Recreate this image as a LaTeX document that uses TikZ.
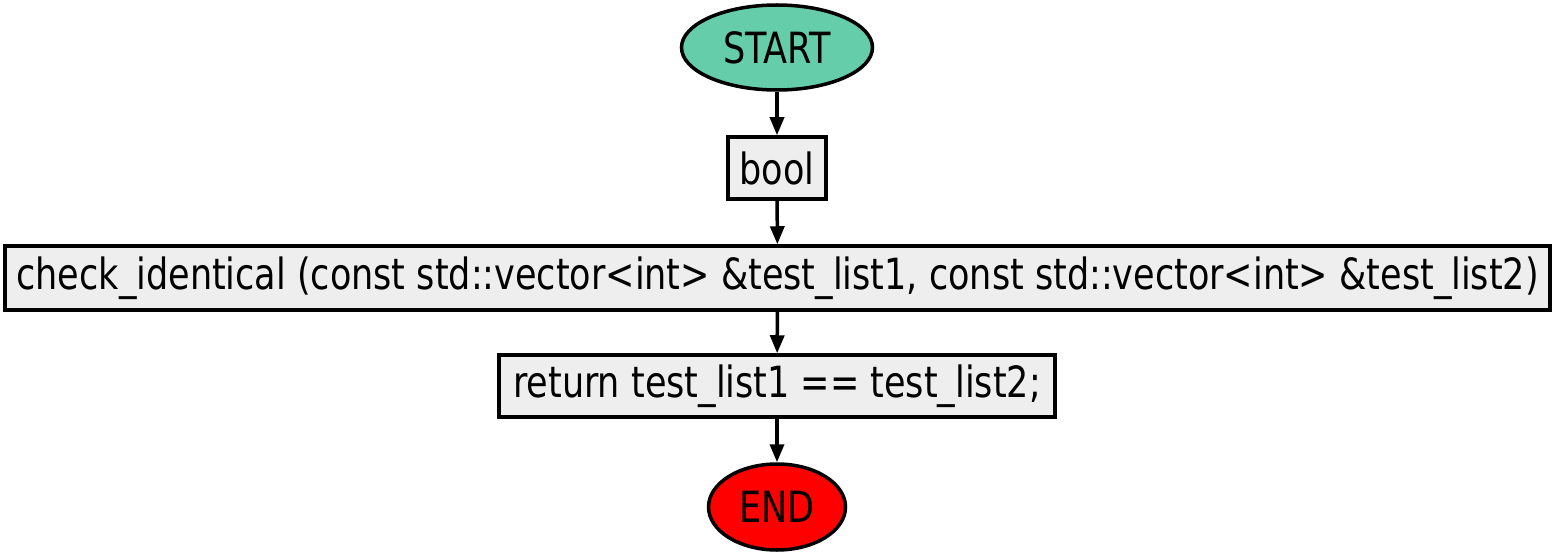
\documentclass[tikz,border=0pt]{standalone}
\usepackage{fontspec}
\setmainfont[FakeStretch=0.905]{DejaVu Sans Condensed}
\usetikzlibrary{shapes.geometric,arrows.meta}

\definecolor{startgreen}{HTML}{66CDAA}
\definecolor{boxgray}{HTML}{EEEEEE}

\tikzset{
  every node/.style={font=\fontsize{43}{48}\selectfont, inner sep=0pt},
  terminal/.style={ellipse, draw, line width=3.5pt},
  stmt/.style={rectangle, draw, line width=3.5pt, fill=boxgray},
  flow/.style={line width=3.5pt, -{Triangle[width=14pt,length=18pt]}}
}

\begin{document}
\begin{tikzpicture}[x=1pt,y=-1pt]
\useasboundingbox (0,0) rectangle (1555,556);
\node[terminal, fill=startgreen, minimum width=191pt, minimum height=85pt] (start) at (777,47.5) {START};
\node[stmt, minimum width=98pt, minimum height=62pt] (ret) at (777,168) {bool};
\node[stmt, minimum width=1545pt, minimum height=64pt] (func) at (777.5,278)
  {check\_identical (const std::vector<int> \&test\_list1, const std::vector<int> \&test\_list2)};
\node[stmt, minimum width=556pt, minimum height=62pt] (body) at (777,386) {return test\_list1 == test\_list2;};
\node[terminal, fill=red, minimum width=137pt, minimum height=86pt] (end) at (777,507) {END};
\draw[flow] (start) -- (ret);
\draw[flow] (ret) -- (func);
\draw[flow] (func) -- (body);
\draw[flow] (body) -- (end);
\end{tikzpicture}
\end{document}
